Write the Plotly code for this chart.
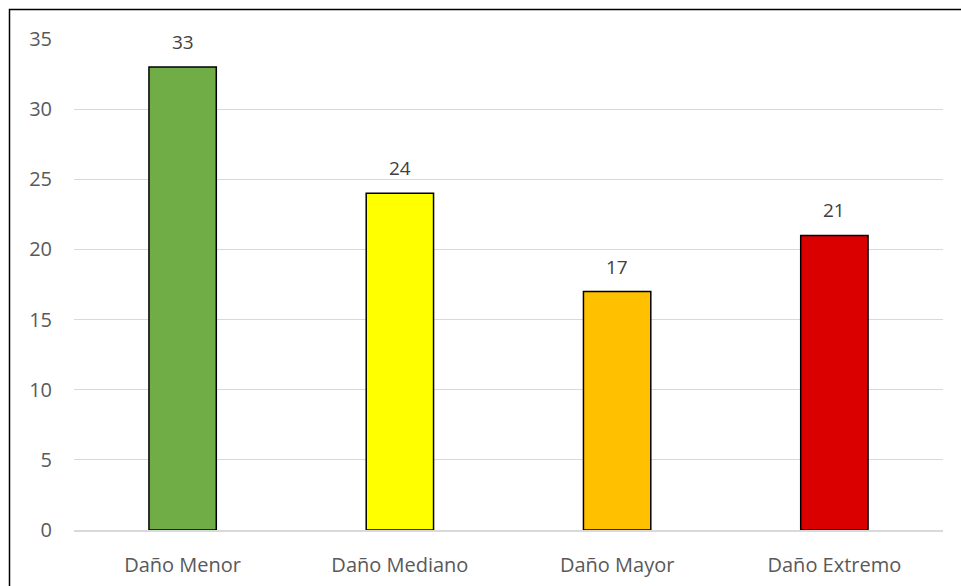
import plotly.graph_objects as go

categories = ["Daño Menor", "Daño Mediano", "Daño Mayor", "Daño Extremo"]
values = [33, 24, 17, 21]
colors = ["#70AD47", "#FFFF00", "#FFC000", "#DA0000"]
y_ticks = [0, 5, 10, 15, 20, 25, 30, 35]

fig = go.Figure()
fig.add_trace(go.Bar(
    x=categories, y=values,
    marker=dict(color=colors, line=dict(color="#000000", width=1.5)),
    width=0.31,
))
for c, v in zip(categories, values):
    fig.add_annotation(x=c, y=v, text=str(v), showarrow=False,
                       yanchor="bottom", yshift=10,
                       font=dict(family="Open Sans", size=19, color="#404040"))

fig.update_layout(
    width=961, height=586,
    margin=dict(l=74, r=18, t=39, b=56),
    paper_bgcolor="white", plot_bgcolor="white",
    showlegend=False,
    font=dict(family="Open Sans", size=20, color="#595959"),
    bargap=0.69,
)
fig.update_xaxes(showgrid=False, showline=True, linecolor="#D9D9D9", linewidth=1.5,
                 ticks="", ticklabelstandoff=16, automargin=False,
                 tickfont=dict(size=20, color="#595959"))
fig.update_yaxes(range=[0, 35], tickvals=y_ticks, showgrid=True, gridcolor="#D9D9D9",
                 gridwidth=1.2, zeroline=False, showline=False, ticks="",
                 ticklabelstandoff=21, automargin=False,
                 tickfont=dict(size=20, color="#595959"))
fig.add_shape(type="rect", xref="paper", yref="paper",
              x0=(9.5 - 74) / 869, x1=1.2, y0=-0.3, y1=1 + (39 - 9.5) / 491,
              line=dict(color="black", width=1.5), fillcolor="rgba(0,0,0,0)", layer="above")

fig.write_html("out.html")
